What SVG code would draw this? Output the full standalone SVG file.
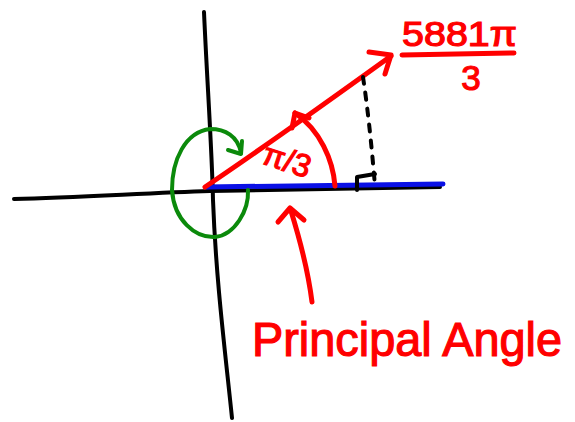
<svg xmlns="http://www.w3.org/2000/svg" width="575" height="422" viewBox="0 0 575 422">
<style>
.s{fill:none;stroke-linecap:round;stroke-linejoin:round}
.k{stroke:#000;stroke-width:4}
.r{stroke:#ff0000;stroke-width:5}
.g{stroke:#0b8a0b;stroke-width:4}
.b{stroke:#0a10e6;stroke-width:5}
.t{fill:#ff0000;stroke:#ff0000;stroke-width:1.2;font-family:"Liberation Sans",sans-serif}
</style>
<rect width="575" height="422" fill="#fff"/>
<g id="axes">
<path class="s k" d="M204,12 C207,80 212,150 213,200 C216,280 225,350 232,418"/>
<path class="s k" d="M14,199 C80,197 150,193 210,191 C300,189 380,188 440,187"/>
</g>
<g id="principal-angle-line">
<path class="s b" d="M206,187 C290,186 370,185 443,184"/>
</g>
<g id="connectors">
<path class="s r" d="M205,187 C260,150 330,100 391,56"/>
<path class="s r" d="M369,52 L391,55 L385,74"/>
<path class="s r" d="M335,186 C333,160 320,130 295,113"/>
<path class="s r" d="M292,128 L295,113 L309,118"/>
<path class="s g" d="M241,153 C238,136 225,129 210,129 C185,132 172,160 172,190 C174,220 195,238 215,237 C235,235 249,210 248,190"/>
<path class="s g" d="M228,150 L241,154 L242,141"/>
<path class="s k" stroke-dasharray="7,9" d="M363,77 C368,110 372,150 375,186"/>
<path class="s k" d="M357,190 L357,177 L375,174"/>
<path class="s r" d="M312,302 C308,270 300,240 291,211"/>
<path class="s r" d="M278,222 L290,208 L304,220"/>
<path class="s r" stroke-width="4.5" d="M402,55 L514,53"/>
</g>
<g id="labels">
<text class="t" x="402" y="46" font-size="35" textLength="115" lengthAdjust="spacingAndGlyphs">5881π</text>
<text class="t" x="471" y="90" font-size="35" text-anchor="middle">3</text>
<text class="t" x="263" y="172" font-size="32" transform="rotate(18 290 160)">π/3</text>
<text class="t" x="252" y="356" font-size="48" textLength="310" lengthAdjust="spacingAndGlyphs">Principal Angle</text>
</g>
</svg>
